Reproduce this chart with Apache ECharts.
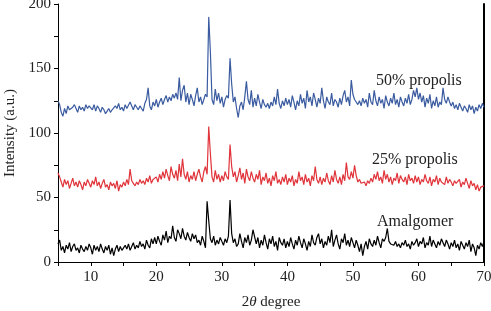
<!DOCTYPE html>
<html>
<head>
<meta charset="utf-8">
<script src="https://cdn.jsdelivr.net/npm/echarts@6/dist/echarts.min.js"></script>
<style>
  html, body { margin: 0; padding: 0; background: #fff; }
  #chart { width: 491px; height: 311px; }
</style>
</head>
<body>
<div id="chart"></div>
<script>
// 2θ from 5 to 70, step 0.25
const xStart = 5
const xStep = 0.25

// 50% propolis
const propolis50 = [
  125,122,116,113,119,115,121,118,117,120,122,119,116,121,118,120,117,122,119,121,
  120,118,122,117,121,119,116,120,118,115,117,119,116,118,117,121,119,123,118,120,
  117,122,119,120,124,121,118,122,120,118,121,119,117,123,126,135,121,118,124,121,
  126,120,124,127,122,126,129,124,128,125,130,127,131,126,143,125,133,137,124,131,
  122,130,126,121,129,135,124,128,122,126,130,128,190,163,126,122,134,125,131,123,
  128,120,126,129,127,158,138,124,128,119,112,121,124,118,128,140,126,122,133,120,
  127,121,130,124,119,126,122,120,123,119,124,121,128,122,134,123,119,125,121,127,
  122,126,120,129,124,118,125,121,130,123,127,119,133,124,128,121,131,126,120,127,
  123,135,125,119,128,124,122,131,121,126,124,120,127,122,129,133,124,128,121,141,
  130,126,124,122,125,121,127,123,126,120,131,124,122,133,125,121,128,123,126,119,
  129,124,121,127,123,131,122,126,120,128,124,121,127,123,130,122,126,133,128,135,
  126,131,124,129,120,127,123,130,119,125,121,128,120,124,122,135,126,123,128,124,
  121,124,119,122,118,123,120,117,121,119,116,122,118,121,115,120,117,122,119,123,
  120
]

// 25% propolis
const propolis25 = [
  69,66,62,58,64,60,63,57,61,65,59,62,58,63,60,56,62,59,64,61,
  58,63,60,66,59,62,57,61,64,58,60,56,62,59,61,57,63,55,60,58,
  62,59,64,60,72,63,61,59,62,60,64,61,63,60,65,62,67,61,64,63,
  66,62,68,64,70,65,72,67,63,74,68,65,71,63,76,66,80,68,64,70,
  62,67,64,70,63,68,72,66,62,70,74,68,105,84,66,62,71,64,68,62,
  67,63,70,66,64,91,74,66,70,62,67,73,64,69,61,72,66,63,70,65,
  62,68,64,71,60,66,63,69,61,65,59,67,63,70,61,64,60,66,62,68,
  60,65,62,67,59,64,61,70,63,66,60,68,62,65,59,67,63,74,64,61,
  66,60,65,62,69,63,60,67,62,71,64,61,66,60,68,63,77,66,64,70,
  65,75,67,62,64,61,60,62,59,63,61,65,62,68,64,70,63,66,61,71,
  64,68,62,66,60,65,63,69,61,67,64,62,66,60,68,63,65,61,67,62,
  66,60,64,62,68,63,61,66,59,64,62,67,60,65,62,63,60,66,61,64,
  62,59,63,61,60,64,58,62,60,65,61,57,63,59,61,56,60,55,58,57,
  59
]

// Amalgomer
const amalgomer = [
  14,17,9,12,7,13,10,15,8,12,14,9,11,7,13,10,8,12,9,14,
  11,6,13,9,12,8,14,10,7,12,9,13,6,11,5,10,13,8,12,9,
  11,13,10,14,9,12,15,10,13,11,16,12,14,10,17,13,11,18,14,19,
  14,20,16,13,21,17,24,15,20,18,28,19,16,25,22,18,26,20,17,23,
  19,16,22,18,21,15,17,13,20,16,11,47,32,18,15,20,13,17,14,19,
  16,13,18,15,20,48,22,15,18,12,14,22,16,11,19,15,21,13,17,25,
  26,14,19,11,17,13,21,15,10,18,14,20,12,16,9,19,15,13,18,11,
  16,12,19,14,10,17,13,20,15,11,18,14,9,16,12,21,15,13,19,22,
  14,18,11,16,13,20,15,25,12,17,21,14,10,18,15,22,13,17,12,19,
  15,11,17,13,8,14,5,12,16,10,18,14,12,17,13,20,15,11,18,16,
  19,26,16,14,15,13,16,12,14,11,15,13,17,12,14,10,16,13,15,18,
  12,16,14,19,11,15,13,20,12,17,14,11,16,13,18,15,12,17,14,10,
  15,12,17,11,14,9,16,13,10,15,12,17,8,14,11,5,13,10,15,12,
  16
]

const xTicks = [10, 20, 30, 40, 50, 60, 70]
const yTicks = [0, 50, 100, 150, 200]

const toPoints = (arr) => arr.map((v, i) => [xStart + i * xStep, v])

const font = "'Liberation Serif', 'DejaVu Serif', serif"

const chart = echarts.init(document.getElementById("chart"))

const option = {
  animation: false,
  textStyle: { fontFamily: font },
  grid: { left: 58, right: 7, top: 4, bottom: 49, outerBoundsMode: "none" },
  xAxis: [
    {
      type: "value",
      min: 5,
      max: 70,
      interval: 5,
      name: "2{i|θ} degree",
      nameLocation: "middle",
      nameGap: 33,
      nameTextStyle: {
        color: "#222", fontSize: 15, fontFamily: font,
        rich: { i: { fontStyle: "italic", fontSize: 15, fontFamily: font, color: "#222" } }
      },
      splitLine: { show: false },
      axisLine: { lineStyle: { color: "#000", width: 1 } },
      axisTick: { length: 4, lineStyle: { color: "#000" } },
      axisLabel: {
        color: "#222", fontSize: 15, fontFamily: font, margin: 8,
        formatter: (v) => (xTicks.includes(v) ? String(v) : "")
      }
    },
    {
      // top border
      type: "value", position: "top", min: 5, max: 70,
      axisLine: { show: true, lineStyle: { color: "#000", width: 1 } },
      axisTick: { show: false }, axisLabel: { show: false }, splitLine: { show: false }
    }
  ],
  yAxis: [
    {
      type: "value",
      min: 0,
      max: 200,
      interval: 25,
      name: "Intensity (a.u.)",
      nameLocation: "middle",
      nameGap: 39,
      nameTextStyle: { color: "#222", fontSize: 15, fontFamily: font },
      splitLine: { show: false },
      axisLine: { show: true, lineStyle: { color: "#000", width: 1 } },
      axisTick: { show: true, length: 4, lineStyle: { color: "#000" } },
      axisLabel: {
        color: "#222", fontSize: 15, fontFamily: font, margin: 7,
        formatter: (v) => (yTicks.includes(v) ? String(v) : "")
      }
    },
    {
      // right border, drawn heavier like the picture
      type: "value", position: "right", min: 0, max: 200,
      axisLine: { show: true, lineStyle: { color: "#000", width: 2 } },
      axisTick: { show: false }, axisLabel: { show: false }, splitLine: { show: false }
    }
  ],
  series: [
    {
      name: "50% propolis", type: "line", data: toPoints(propolis50),
      showSymbol: false, lineStyle: { color: "#3a5ba0", width: 1.2 }
    },
    {
      name: "25% propolis", type: "line", data: toPoints(propolis25),
      showSymbol: false, lineStyle: { color: "#e0343a", width: 1.2 }
    },
    {
      name: "Amalgomer", type: "line", data: toPoints(amalgomer),
      showSymbol: false, lineStyle: { color: "#000", width: 1.2 }
    }
  ],
  graphic: [
    { type: "text", left: 376, top: 73, style: { text: "50% propolis", font: "16px " + font, fill: "#222" } },
    { type: "text", left: 372, top: 152, style: { text: "25% propolis", font: "16px " + font, fill: "#222" } },
    { type: "text", left: 377, top: 214, style: { text: "Amalgomer", font: "16px " + font, fill: "#222" } }
  ]
}

chart.setOption(option)
</script>
</body>
</html>
